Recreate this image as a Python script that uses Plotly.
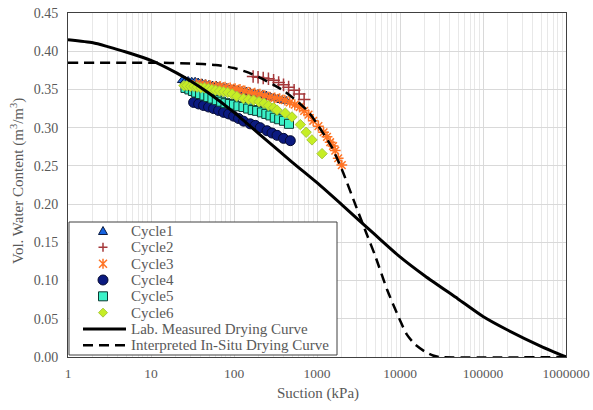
import plotly.graph_objects as go

# ---------------- data ----------------
c1_x = [24, 26, 28, 31, 34, 37, 41, 45, 50, 55, 61, 67, 74, 82, 91, 100, 112, 125, 140, 157, 175, 195, 220, 245, 275, 305, 340, 380, 425]
c1_y = [0.362, 0.361, 0.361, 0.360, 0.360, 0.359, 0.358, 0.357, 0.356, 0.355, 0.355, 0.354, 0.353, 0.352, 0.351, 0.350, 0.349, 0.348, 0.347, 0.346, 0.345, 0.344, 0.343, 0.342, 0.340, 0.339, 0.338, 0.336, 0.335]

c2_x = [170, 195, 225, 260, 300, 345, 395, 455, 530, 610, 700]
c2_y = [0.367, 0.366, 0.365, 0.364, 0.362, 0.359, 0.356, 0.353, 0.349, 0.344, 0.337]

c3_x = [35, 40, 46, 52, 60, 68, 78, 90, 103, 118, 135, 155, 178, 205, 235, 270, 310, 355, 410, 470, 540, 620, 700, 790, 900, 1040, 1200, 1320, 1440, 1560, 1660, 1800, 1990]
c3_y = [0.357, 0.357, 0.356, 0.355, 0.354, 0.354, 0.353, 0.352, 0.351, 0.350, 0.348, 0.346, 0.345, 0.344, 0.342, 0.340, 0.339, 0.338, 0.336, 0.333, 0.330, 0.327, 0.322, 0.317, 0.309, 0.302, 0.294, 0.288, 0.281, 0.276, 0.270, 0.260, 0.251]

c4_x = [32.6, 37.5, 43, 49.4, 56.8, 65.2, 75, 86, 99, 113.6, 130.5, 157, 180.6, 207, 250, 287, 330, 396, 477]
c4_y = [0.333, 0.331, 0.329, 0.327, 0.325, 0.3225, 0.320, 0.318, 0.315, 0.312, 0.3085, 0.305, 0.303, 0.300, 0.296, 0.293, 0.290, 0.286, 0.283]

c5_x = [26, 29, 32, 35, 39, 44, 49, 55, 62, 70, 79, 89, 100, 113, 130, 148, 168, 190, 217, 245, 275, 310, 350, 400, 460]
c5_y = [0.352, 0.350, 0.348, 0.346, 0.344, 0.342, 0.340, 0.338, 0.336, 0.334, 0.332, 0.331, 0.330, 0.328, 0.327, 0.325, 0.323, 0.322, 0.320, 0.318, 0.316, 0.313, 0.311, 0.309, 0.305]

c6_x = [25, 27, 30, 33, 36, 40, 44, 49, 54, 60, 67, 75, 84, 95, 108, 130, 150, 172, 200, 230, 260, 300, 330, 415, 500, 630, 740, 870, 1150]
c6_y = [0.355, 0.355, 0.354, 0.354, 0.353, 0.352, 0.352, 0.351, 0.350, 0.349, 0.348, 0.347, 0.346, 0.344, 0.341, 0.338, 0.337, 0.336, 0.334, 0.332, 0.329, 0.326, 0.323, 0.319, 0.314, 0.304, 0.294, 0.284, 0.266]

lab_x = [1, 2, 3, 5, 10, 20, 30, 50, 100, 200, 500, 1000, 2000, 5000, 10000, 20000, 50000, 100000, 200000, 500000, 1000000]
lab_y = [0.415, 0.411, 0.406, 0.399, 0.388, 0.372, 0.361, 0.345, 0.320, 0.292, 0.255, 0.228, 0.199, 0.160, 0.131, 0.106, 0.076, 0.053, 0.035, 0.014, 0.0]

ins_x = [1, 10, 30, 60, 100, 150, 200, 300, 400, 600, 800, 1000, 1500, 2000, 3000, 4000, 5000, 7000, 10000, 12000, 15000, 20000, 25000, 30000, 1000000]
ins_y = [0.385, 0.385, 0.384, 0.382, 0.378, 0.372, 0.366, 0.356, 0.348, 0.333, 0.320, 0.305, 0.275, 0.245, 0.195, 0.160, 0.133, 0.088, 0.048, 0.030, 0.017, 0.007, 0.002, 0.0, 0.0]

x_tickvals = [1, 10, 100, 1000, 10000, 100000, 1000000]
x_ticktext = ["1", "10", "100", "1000", "10000", "100000", "1000000"]
y_tickvals = [0.0, 0.05, 0.10, 0.15, 0.20, 0.25, 0.30, 0.35, 0.40, 0.45]

legend_names = ["Cycle1", "Cycle2", "Cycle3", "Cycle4", "Cycle5", "Cycle6",
                "Lab. Measured Drying Curve", "Interpreted In-Situ Drying Curve"]
x_title = "Suction (kPa)"
y_title = "Vol. Water Content (m<sup>3</sup>/m<sup>3</sup>)"

FONT = "Liberation Serif, Times New Roman, serif"
GRAY = "#595959"

# colours / styles
C1, C1E = "#1763E0", "#0A1A40"
C2 = "#A5393B"
C3 = "#FF7424"
C4, C4E = "#0B1A80", "#050A30"
C5, C5E = "#3BF2C8", "#0D3A33"
C6, C6E = "#C6EE24", "#A8C83A"
DASH = "10px,6px"

# layout geometry (pixels)
W, H = 593, 410
ML, MR, MT, MB = 68, 27, 13, 53
PW, PH = W - ML - MR, H - MT - MB


def px_x(p):
    return (p - ML) / PW


def px_y(p):
    return (H - MB - p) / PH


fig = go.Figure()

fig.add_trace(go.Scatter(x=c1_x, y=c1_y, mode="markers", name=legend_names[0],
                         marker=dict(symbol="triangle-up", size=9, color=C1,
                                     line=dict(color=C1E, width=1))))
fig.add_trace(go.Scatter(x=c2_x, y=c2_y, mode="markers", name=legend_names[1],
                         marker=dict(symbol="cross-thin", size=9, color=C2,
                                     line=dict(color=C2, width=1.5))))
fig.add_trace(go.Scatter(x=c3_x, y=c3_y, mode="markers", name=legend_names[2],
                         marker=dict(symbol="asterisk-open", size=9, color=C3,
                                     line=dict(color=C3, width=1.5))))
fig.add_trace(go.Scatter(x=c4_x, y=c4_y, mode="markers", name=legend_names[3],
                         marker=dict(symbol="circle", size=10, color=C4,
                                     line=dict(color=C4E, width=1))))
fig.add_trace(go.Scatter(x=c5_x, y=c5_y, mode="markers", name=legend_names[4],
                         marker=dict(symbol="square", size=9, color=C5,
                                     line=dict(color=C5E, width=1))))
fig.add_trace(go.Scatter(x=c6_x, y=c6_y, mode="markers", name=legend_names[5],
                         marker=dict(symbol="diamond", size=8, color=C6,
                                     line=dict(color=C6E, width=1))))
fig.add_trace(go.Scatter(x=lab_x, y=lab_y, mode="lines", name=legend_names[6],
                         line=dict(color="black", width=3, shape="spline", smoothing=0.6)))
fig.add_trace(go.Scatter(x=ins_x, y=ins_y, mode="lines", name=legend_names[7],
                         line=dict(color="black", width=2.5, dash=DASH, shape="spline", smoothing=0.6)))

# ---------- legend box drawn as layout shapes / annotations ----------
shapes = []
annotations = []
box_l, box_r, box_t, box_b = 69, 337, 222, 355
shapes.append(dict(type="rect", xref="paper", yref="paper", layer="above",
                   x0=px_x(box_l), x1=px_x(box_r), y0=px_y(box_b), y1=px_y(box_t),
                   fillcolor="white", line=dict(color="#404040", width=1)))
row0, row_step = 231, 16.33
sym_x = 103
text_x = 129


def sym_path(path, row, fill, edge, width=1):
    return dict(type="path", xref="paper", yref="paper", layer="above",
                xsizemode="pixel", ysizemode="pixel",
                xanchor=px_x(sym_x), yanchor=px_y(row0 + row * row_step),
                path=path, fillcolor=fill, line=dict(color=edge, width=width))


shapes.append(sym_path("M-4.5,-3.5 L4.5,-3.5 L0,4.5 Z", 0, C1, C1E))
shapes.append(sym_path("M-4.5,0 L4.5,0 M0,-4.5 L0,4.5", 1, "rgba(0,0,0,0)", C2, 1.5))
shapes.append(sym_path("M-4,-4 L4,4 M-4,4 L4,-4 M0,-5 L0,5", 2, "rgba(0,0,0,0)", C3, 1.5))
shapes.append(dict(type="circle", xref="paper", yref="paper", layer="above",
                   xsizemode="pixel", ysizemode="pixel",
                   xanchor=px_x(sym_x), yanchor=px_y(row0 + 3 * row_step),
                   x0=-5, x1=5, y0=-5, y1=5, fillcolor=C4, line=dict(color=C4E, width=1)))
shapes.append(dict(type="rect", xref="paper", yref="paper", layer="above",
                   xsizemode="pixel", ysizemode="pixel",
                   xanchor=px_x(sym_x), yanchor=px_y(row0 + 4 * row_step),
                   x0=-4.5, x1=4.5, y0=-4.5, y1=4.5, fillcolor=C5, line=dict(color=C5E, width=1)))
shapes.append(sym_path("M0,-4.5 L4.5,0 L0,4.5 L-4.5,0 Z", 5, C6, C6E))
shapes.append(dict(type="line", xref="paper", yref="paper", layer="above",
                   x0=px_x(83), x1=px_x(126), y0=px_y(row0 + 6 * row_step), y1=px_y(row0 + 6 * row_step),
                   line=dict(color="black", width=3)))
shapes.append(dict(type="line", xref="paper", yref="paper", layer="above",
                   x0=px_x(83), x1=px_x(126), y0=px_y(row0 + 7 * row_step), y1=px_y(row0 + 7 * row_step),
                   line=dict(color="black", width=2.5, dash=DASH)))

for i, name in enumerate(legend_names):
    annotations.append(dict(xref="paper", yref="paper", x=px_x(text_x), y=px_y(row0 + i * row_step),
                            xanchor="left", yanchor="middle", showarrow=False, text=name,
                            font=dict(family=FONT, size=15, color=GRAY)))

# axis titles
annotations.append(dict(xref="paper", yref="paper", x=px_x(318), y=px_y(393),
                        xanchor="center", yanchor="middle", showarrow=False, text=x_title,
                        font=dict(family=FONT, size=15, color=GRAY)))
annotations.append(dict(xref="paper", yref="paper", x=px_x(17), y=px_y(181),
                        xanchor="center", yanchor="middle", showarrow=False, text=y_title,
                        textangle=-90, font=dict(family=FONT, size=15, color=GRAY)))

fig.update_layout(
    width=W, height=H,
    margin=dict(l=ML, r=MR, t=MT, b=MB, autoexpand=False),
    paper_bgcolor="white", plot_bgcolor="white",
    font=dict(family=FONT, color=GRAY, size=14),
    showlegend=False,
    shapes=shapes, annotations=annotations,
)

fig.update_xaxes(
    type="log", range=[0, 6], automargin=False,
    tickvals=x_tickvals, ticktext=x_ticktext,
    showgrid=True, gridcolor="#d9d9d9", gridwidth=1,
    minor=dict(showgrid=True, gridcolor="#e8e8e8", gridwidth=1, dtick="D1", ticks=""),
    showline=True, linecolor="#404040", linewidth=1, mirror=True,
    ticks="", tickfont=dict(family=FONT, size=13.5, color=GRAY), ticklabelstandoff=4,
    zeroline=False,
)
fig.update_yaxes(
    range=[0, 0.45], tickvals=y_tickvals, tickformat=".2f", automargin=False,
    showgrid=True, gridcolor="#d9d9d9", gridwidth=1,
    showline=True, linecolor="#404040", linewidth=1, mirror=True,
    ticks="", tickfont=dict(family=FONT, size=14, color=GRAY), ticklabelstandoff=6,
    zeroline=False,
)

fig.write_html("out.html", config={"displayModeBar": False},
               post_script="document.body.style.margin='0';")
